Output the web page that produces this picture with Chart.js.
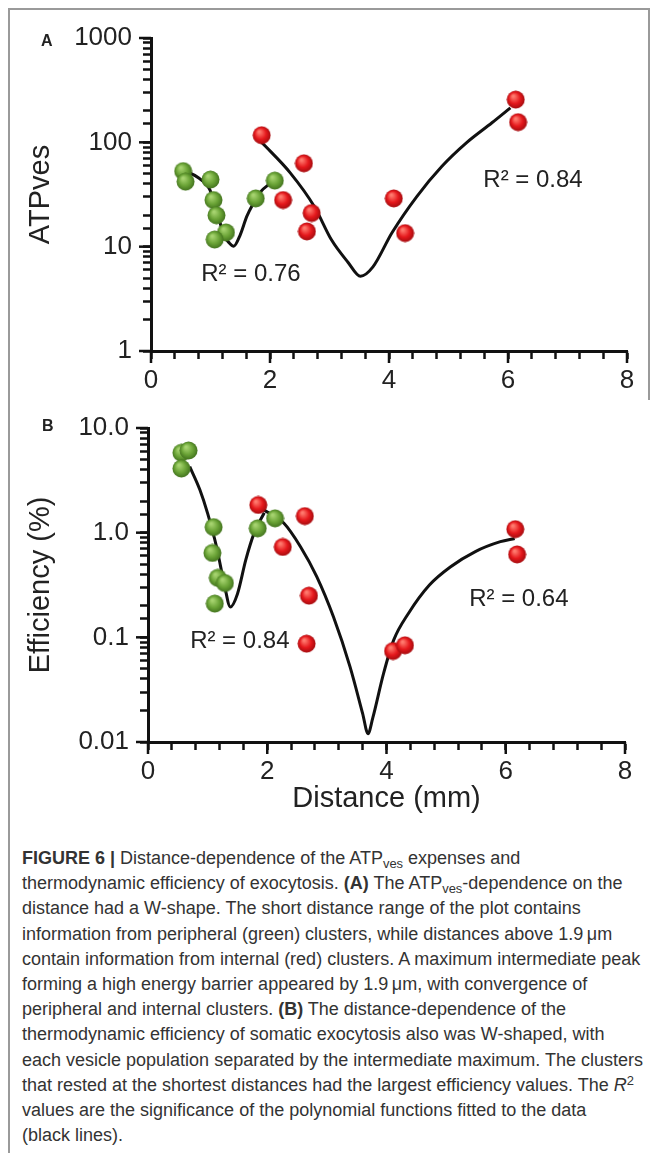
<!DOCTYPE html>
<html>
<head>
<meta charset="utf-8">
<script src="https://cdn.jsdelivr.net/npm/chart.js@4.4.1/dist/chart.umd.min.js"></script>
<style>
  html, body { margin: 0; padding: 0; background: #fff; }
  #page { position: relative; width: 654px; height: 1153px; overflow: hidden;
          font-family: "Liberation Sans", Arial, sans-serif; }
  .frame { position: absolute; background: #9a9a9a; }
  canvas { position: absolute; left: 0; }
  .panel { position: absolute; font-weight: bold; font-size: 16px; color: #222; }
  #caption { position: absolute; left: 22px; top: 846px; font-size: 18px; line-height: 25.2px;
             color: #333; white-space: nowrap; }
  #caption sub { font-size: 72%; vertical-align: -0.28em; line-height: 0; }
  #caption sup { font-size: 72%; vertical-align: 0.5em; line-height: 0; }
</style>
</head>
<body>
<div id="page">
  <div class="frame" style="left:8px;top:8px;width:642px;height:1.5px"></div>
  <div class="frame" style="left:8px;top:8px;width:1.5px;height:1145px"></div>
  <div class="frame" style="left:648px;top:8px;width:1.5px;height:392px"></div>

  <canvas id="chartA" width="654" height="400" style="top:0"></canvas>
  <canvas id="chartB" width="654" height="420" style="top:400px"></canvas>

  <div class="panel" style="left:41px;top:32px">A</div>
  <div class="panel" style="left:42px;top:417px">B</div>

  <div id="caption">
    <b>FIGURE 6 |</b> Distance-dependence of the ATP<sub>ves</sub> expenses and<br>
    thermodynamic efficiency of exocytosis. <b>(A)</b> The ATP<sub>ves</sub>-dependence on the<br>
    distance had a W-shape. The short distance range of the plot contains<br>
    information from peripheral (green) clusters, while distances above 1.9&#8201;&mu;m<br>
    contain information from internal (red) clusters. A maximum intermediate peak<br>
    forming a high energy barrier appeared by 1.9&#8201;&mu;m, with convergence of<br>
    peripheral and internal clusters. <b>(B)</b> The distance-dependence of the<br>
    thermodynamic efficiency of somatic exocytosis also was W-shaped, with<br>
    each vesicle population separated by the intermediate maximum. The clusters<br>
    that rested at the shortest distances had the largest efficiency values. The <i>R</i><sup>2</sup><br>
    values are the significance of the polynomial functions fitted to the data<br>
    (black lines).
  </div>
</div>

<script>
// tick labels
const xTicks = [0, 2, 4, 6, 8];
const yTicksA = ['1', '10', '100', '1000'];
const yTicksB = ['0.01', '0.1', '1.0', '10.0'];

// panel A - ATPves
const greenXA = [0.54, 0.58, 1.0, 1.05, 1.1, 1.26, 1.07, 1.76, 2.08];
const greenYA = [53, 42, 44, 28, 20, 13.7, 11.7, 29, 43];
const redXA = [1.86, 2.57, 2.22, 2.70, 2.62, 4.08, 4.27, 6.13, 6.17];
const redYA = [117, 63, 28, 21, 14, 29, 13.5, 257, 156];
const fitGreenXA = [0.58, 0.79, 0.99, 1.1, 1.24, 1.32, 1.39, 1.5, 1.61, 1.72, 1.83, 2.05];
const fitGreenYA = [53, 46, 35, 22, 12.5, 10.8, 10.1, 13, 19.5, 26, 33, 42.4];
const fitRedXA = [1.86, 2.34, 2.75, 3.03, 3.31, 3.52, 3.73, 4.05, 4.47, 4.89, 5.31, 5.73, 6.04];
const fitRedYA = [100, 51, 24, 11.7, 7.1, 5.2, 6.4, 13.6, 30.4, 59, 100, 154, 214];
const rTextA = ['R\u00B2 = 0.76', 'R\u00B2 = 0.84'];

// panel B - efficiency
const greenXB = [0.56, 0.68, 0.56, 1.10, 1.08, 1.17, 1.29, 1.12, 1.84, 2.13];
const greenYB = [5.8, 6.1, 4.1, 1.13, 0.64, 0.37, 0.33, 0.21, 1.10, 1.37];
const redXB = [1.85, 2.63, 2.26, 2.70, 2.66, 4.11, 4.31, 6.16, 6.19];
const redYB = [1.84, 1.44, 0.73, 0.25, 0.087, 0.074, 0.084, 1.08, 0.62];
const fitGreenXB = [0.70, 0.87, 1.0, 1.15, 1.29, 1.38, 1.5, 1.64, 1.78, 1.95];
const fitGreenYB = [4.28, 2.57, 1.53, 0.73, 0.30, 0.195, 0.26, 0.55, 0.99, 1.55];
const fitRedXB = [1.9, 2.28, 2.56, 2.83, 3.11, 3.39, 3.6, 3.69, 3.77, 3.95, 4.12, 4.37, 4.72, 5.07, 5.49, 5.91, 6.15];
const fitRedYB = [1.7, 1.23, 0.73, 0.38, 0.157, 0.052, 0.0187, 0.012, 0.017, 0.045, 0.094, 0.17, 0.316, 0.47, 0.66, 0.82, 0.88];
const rTextB = ['R\u00B2 = 0.84', 'R\u00B2 = 0.64'];

const FONT = '"Liberation Sans", Arial, sans-serif';
Chart.defaults.font.family = FONT;
Chart.defaults.color = '#222';

function pts(xs, ys) {
  return xs.map((x, i) => ({ x: x, y: ys[i] }));
}

// shaded ball used as point marker
function makeBall(light, base, dark) {
  const c = document.createElement('canvas');
  c.width = 19; c.height = 19;
  const g = c.getContext('2d');
  const grad = g.createRadialGradient(7, 6, 1, 9.5, 9.5, 9.5);
  grad.addColorStop(0, light);
  grad.addColorStop(0.55, base);
  grad.addColorStop(1, dark);
  g.fillStyle = grad;
  g.beginPath();
  g.arc(9.5, 9.5, 9, 0, Math.PI * 2);
  g.fill();
  return c;
}
const greenBall = makeBall('#a6d36f', '#6aa336', '#3f6f1c');
const redBall = makeBall('#ff7a6e', '#e5181c', '#9e0b0e');

function isDecade(v) {
  const e = Math.log10(v);
  return Math.abs(e - Math.round(e)) < 1e-6;
}

const rLabels = {
  id: 'rLabels',
  afterDatasetsDraw(chart, args, opts) {
    const ctx = chart.ctx;
    const x = chart.scales.x, y = chart.scales.y;
    ctx.save();
    ctx.font = '24px ' + FONT;
    ctx.fillStyle = '#222';
    ctx.textAlign = 'center';
    ctx.textBaseline = 'middle';
    opts.items.forEach(it => {
      ctx.fillText(it.text, x.getPixelForValue(it.x), y.getPixelForValue(it.y));
    });
    ctx.restore();
  }
};

// longer ticks at the labelled values
const majorTicks = {
  id: 'majorTicks',
  afterDraw(chart) {
    const ctx = chart.ctx, area = chart.chartArea;
    const x = chart.scales.x, y = chart.scales.y;
    ctx.save();
    ctx.strokeStyle = '#111';
    ctx.lineWidth = 2.5;
    xTicks.forEach(v => {
      const px = x.getPixelForValue(v);
      ctx.beginPath();
      ctx.moveTo(px, area.bottom);
      ctx.lineTo(px, area.bottom + 12);
      ctx.stroke();
    });
    y.ticks.forEach(t => {
      if (!isDecade(t.value)) return;
      const py = y.getPixelForValue(t.value);
      ctx.beginPath();
      ctx.moveTo(area.left, py);
      ctx.lineTo(area.left - 12, py);
      ctx.stroke();
    });
    ctx.restore();
  }
};

function xLabel(v) {
  return xTicks.some(t => Math.abs(t - v) < 1e-6) ? String(Math.round(v)) : '';
}

function decadeLabel(labels, min) {
  const first = Math.round(Math.log10(min));
  return v => isDecade(v) ? (labels[Math.round(Math.log10(v)) - first] || '') : '';
}

function makeChart(id, o) {
  const tickGrid = { drawOnChartArea: false, drawTicks: true, tickLength: 8, tickWidth: 2.5, tickColor: '#111' };
  return new Chart(document.getElementById(id), {
    type: 'scatter',
    data: {
      datasets: [
        { data: o.green, pointStyle: greenBall, pointRadius: 9 },
        { data: o.red, pointStyle: redBall, pointRadius: 9 },
        { data: o.fitGreen, showLine: true, pointRadius: 0, borderColor: '#111', borderWidth: 3,
          cubicInterpolationMode: 'monotone', order: 1 },
        { data: o.fitRed, showLine: true, pointRadius: 0, borderColor: '#111', borderWidth: 3,
          cubicInterpolationMode: 'monotone', order: 1 }
      ]
    },
    options: {
      responsive: false,
      animation: false,
      devicePixelRatio: 1,
      layout: { padding: o.pad },
      plugins: { legend: { display: false }, tooltip: { enabled: false }, rLabels: { items: o.labels } },
      scales: {
        x: {
          type: 'linear', min: 0, max: 8,
          ticks: { stepSize: 0.4, autoSkip: false, maxRotation: 0, padding: 6,
                   font: { size: 26 }, color: '#222', callback: xLabel },
          grid: tickGrid,
          border: { color: '#111', width: 3 },
          title: o.xTitle,
          afterFit: s => { s.height = o.xH; }
        },
        y: {
          type: 'logarithmic', min: o.ymin, max: o.ymax,
          ticks: { autoSkip: false, padding: 11, font: { size: 26 }, color: '#222',
                   callback: decadeLabel(o.yLabels, o.ymin) },
          grid: tickGrid,
          border: { color: '#111', width: 3 },
          title: { display: true, text: o.yTitle, font: { size: 29 }, color: '#222', padding: { top: 24, bottom: 0 } },
          afterFit: s => { s.width = o.yW; }
        }
      }
    },
    plugins: [rLabels, majorTicks]
  });
}

makeChart('chartA', {
  green: pts(greenXA, greenYA),
  red: pts(redXA, redYA),
  fitGreen: pts(fitGreenXA, fitGreenYA),
  fitRed: pts(fitRedXA, fitRedYA),
  labels: [
    { text: rTextA[0], x: 1.68, y: 5.4 },
    { text: rTextA[1], x: 6.42, y: 43 }
  ],
  pad: { top: 38, right: 27, left: 0, bottom: 0 },
  xH: 49, yW: 151,
  ymin: 1, ymax: 1000, yLabels: yTicksA,
  yTitle: 'ATPves',
  xTitle: { display: false }
});

makeChart('chartB', {
  green: pts(greenXB, greenYB),
  red: pts(redXB, redYB),
  fitGreen: pts(fitGreenXB, fitGreenYB),
  fitRed: pts(fitRedXB, fitRedYB),
  labels: [
    { text: rTextB[0], x: 1.54, y: 0.092 },
    { text: rTextB[1], x: 6.22, y: 0.23 }
  ],
  pad: { top: 28, right: 29, left: 0, bottom: 0 },
  xH: 78, yW: 148,
  ymin: 0.01, ymax: 10, yLabels: yTicksB,
  yTitle: 'Efficiency (%)',
  xTitle: { display: true, text: 'Distance (mm)', font: { size: 29 }, color: '#222', padding: { top: 0, bottom: 4 } }
});
</script>
</body>
</html>
